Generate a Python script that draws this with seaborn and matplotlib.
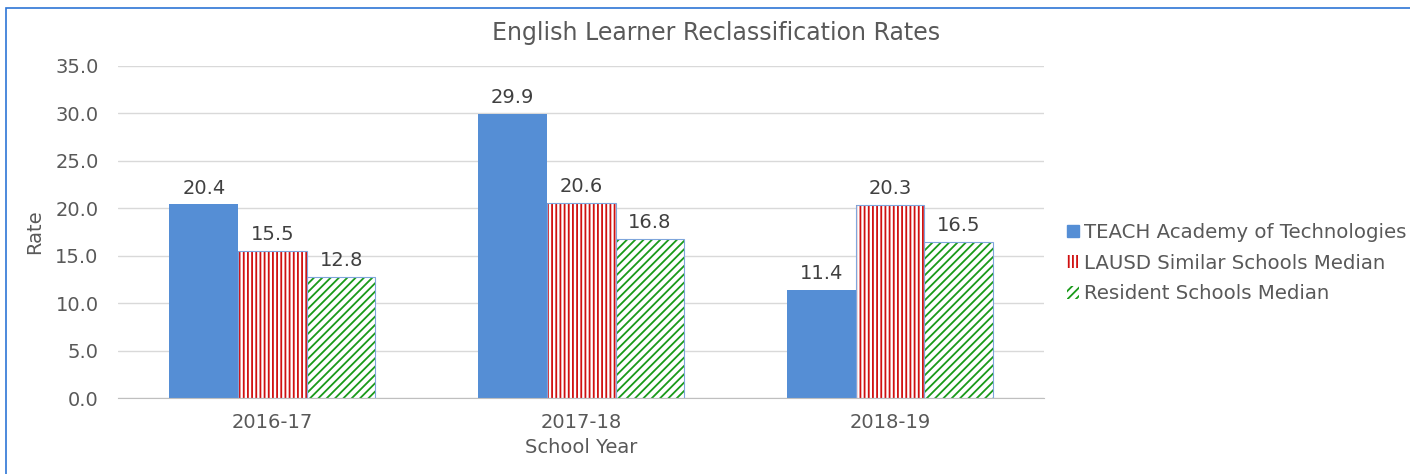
import pandas as pd
import seaborn as sns
import matplotlib.pyplot as plt
from matplotlib.patches import Rectangle

years = ['2016-17', '2017-18', '2018-19']
series = ['TEACH Academy of Technologies', 'LAUSD Similar Schools Median', 'Resident Schools Median']
teach = [20.4, 29.9, 11.4]
lausd = [15.5, 20.6, 20.3]
resident = [12.8, 16.8, 16.5]

df = pd.DataFrame({
    'year': years * 3,
    'group': [series[0]] * 3 + [series[1]] * 3 + [series[2]] * 3,
    'rate': teach + lausd + resident,
})

sns.set_style('white')
plt.rcParams['font.family'] = ['DejaVu Sans']
plt.rcParams['hatch.linewidth'] = 1.3

fig = plt.figure(figsize=(14.1, 4.74), dpi=100)
ax = fig.add_axes([0.0837, 0.160, 0.657, 0.701])

sns.barplot(df, x='year', y='rate', hue='group', hue_order=series, order=years,
            width=0.667, gap=0, ax=ax, legend=False)

styles = [
    dict(face='#558ED5', edge='#558ED5', hatch=None),
    dict(face='white', edge='#D01010', hatch='||||'),
    dict(face='white', edge='#1A9A1A', hatch='////'),
]
for container, st in zip(ax.containers, styles):
    for bar in container:
        bar.set_facecolor(st['face'])
        bar.set_edgecolor(st['edge'])
        bar.set_linewidth(0)
        if st['hatch']:
            bar.set_hatch(st['hatch'])
            # thin blue outline like the original
            ax.add_patch(Rectangle(bar.get_xy(), bar.get_width(), bar.get_height(),
                                   fill=False, edgecolor='#7FA6DC', linewidth=0.8, zorder=3))
    ax.bar_label(container, fmt='%.1f', padding=5, fontsize=14, color='#404040')

ax.set_ylim(0, 35)
ax.set_yticks(range(0, 36, 5))
ax.set_yticklabels([f'{v:.1f}' for v in range(0, 36, 5)])
ax.set_xlim(-0.5, 2.5)
ax.yaxis.grid(True, color='#D9D9D9', linewidth=1)
ax.set_axisbelow(True)
for s in ['top', 'right', 'left']:
    ax.spines[s].set_visible(False)
ax.spines['bottom'].set_color('#BFBFBF')
ax.tick_params(axis='both', length=0, labelsize=14, labelcolor='#595959')
ax.tick_params(axis='x', pad=11)
ax.tick_params(axis='y', pad=14)
ax.set_xlabel('School Year', fontsize=14, color='#595959', labelpad=4)
ax.set_ylabel('Rate', fontsize=14, color='#595959', labelpad=8)

fig.text(0.508, 0.93, 'English Learner Reclassification Rates', ha='center', va='center',
         fontsize=17, color='#595959')

handles = [
    Rectangle((0, 0), 1, 1, facecolor='#558ED5', edgecolor='#558ED5'),
    Rectangle((0, 0), 1, 1, facecolor='white', edgecolor='#D01010', hatch='||||', linewidth=0),
    Rectangle((0, 0), 1, 1, facecolor='white', edgecolor='#1A9A1A', hatch='////', linewidth=0),
]
leg = fig.legend(handles, series, loc='center left', bbox_to_anchor=(0.751, 0.445),
                 frameon=False, fontsize=14.2, handlelength=0.6, handleheight=0.6,
                 handletextpad=0.25, labelspacing=0.6, labelcolor='#595959',
                 borderaxespad=0)

fig.patches.append(Rectangle((6 / 1410, -0.1), 1.2, 1.1 - 8 / 474 + 0.001,
                             transform=fig.transFigure, fill=False,
                             edgecolor='#2E75D6', linewidth=1.2))

fig.savefig('out.png', dpi=100)
